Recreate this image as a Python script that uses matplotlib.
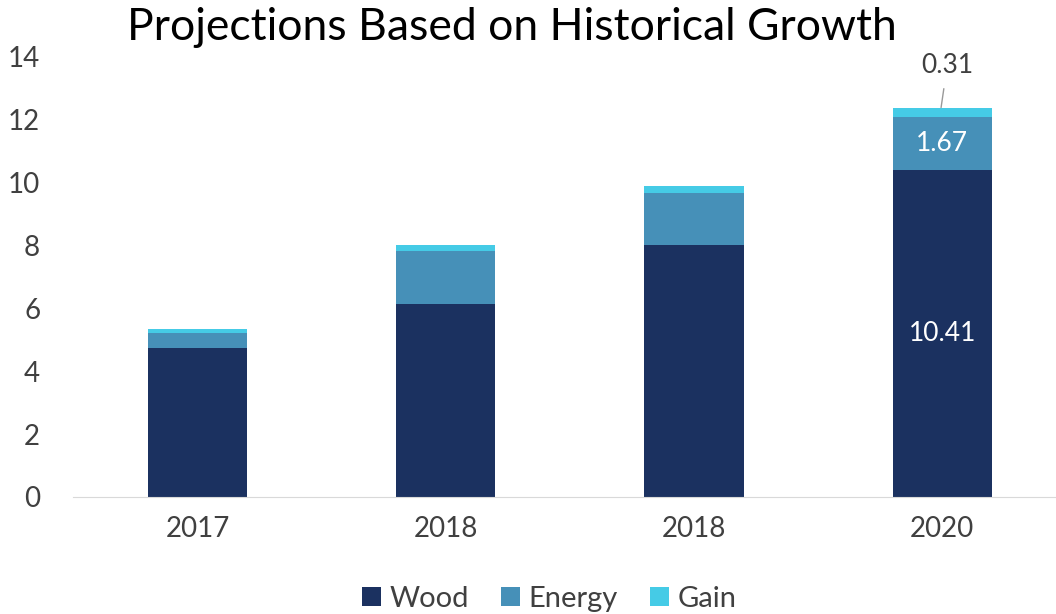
import matplotlib.pyplot as plt
import numpy as np

plt.rcParams['font.family'] = ['Lato', 'DejaVu Sans']

years = ['2017', '2018', '2018', '2020']
wood = [4.74, 6.14, 8.02, 10.41]
energy = [0.48, 1.69, 1.65, 1.67]
gain = [0.13, 0.19, 0.23, 0.31]

c_wood = '#1b3160'
c_energy = '#4690b8'
c_gain = '#45cbe6'
txt = '#404040'

fig = plt.figure(figsize=(10.56, 6.14), dpi=100)
ax = fig.add_axes([0.0696, 0.1906, 0.9304, 0.7166])

x = np.arange(len(years))
w = 0.40
b1 = ax.bar(x, wood, w, color=c_wood, label='Wood')
bottom2 = np.array(wood)
b2 = ax.bar(x, energy, w, bottom=bottom2, color=c_energy, label='Energy')
bottom3 = bottom2 + np.array(energy)
b3 = ax.bar(x, gain, w, bottom=bottom3, color=c_gain, label='Gain')

# labels on the last bar only
i = 3
ax.text(x[i], wood[i] / 2, f'{wood[i]:.2f}', color='white', fontsize=19,
        ha='center', va='center')
ax.text(x[i], wood[i] + energy[i] / 2, f'{energy[i]:.2f}', color='white',
        fontsize=19, ha='center', va='center')
top = bottom3[i] + gain[i]
ax.annotate(f'{gain[i]:.2f}', xy=(x[i] - 0.005, top), xytext=(x[i] + 0.02, top + 1.35),
            fontsize=19, color=txt, ha='center', va='center',
            arrowprops=dict(arrowstyle='-', color='#999999', lw=1,
                            shrinkA=6, shrinkB=0))

ax.set_xlim(-0.5, 3.458)
ax.set_ylim(0, 14)
ax.set_yticks(range(0, 15, 2))
ax.set_xticks(x)
ax.set_xticklabels(years)
ax.tick_params(axis='both', length=0, labelsize=20, labelcolor=txt)
ax.tick_params(axis='y', pad=24)
ax.tick_params(axis='x', pad=14)
for s in ['top', 'right', 'left']:
    ax.spines[s].set_visible(False)
ax.spines['bottom'].set_color('#d9d9d9')

fig.text(0.485, 0.955, 'Projections Based on Historical Growth', fontsize=32,
         color='black', ha='center', va='center')

fig.legend(handles=[b1, b2, b3], loc='center', bbox_to_anchor=(0.52, 0.025),
           ncol=3, frameon=False, fontsize=21, handlelength=0.65,
           handleheight=0.65, handletextpad=0.3, columnspacing=1.1,
           labelcolor=txt)

fig.savefig('out.png', dpi=100)
